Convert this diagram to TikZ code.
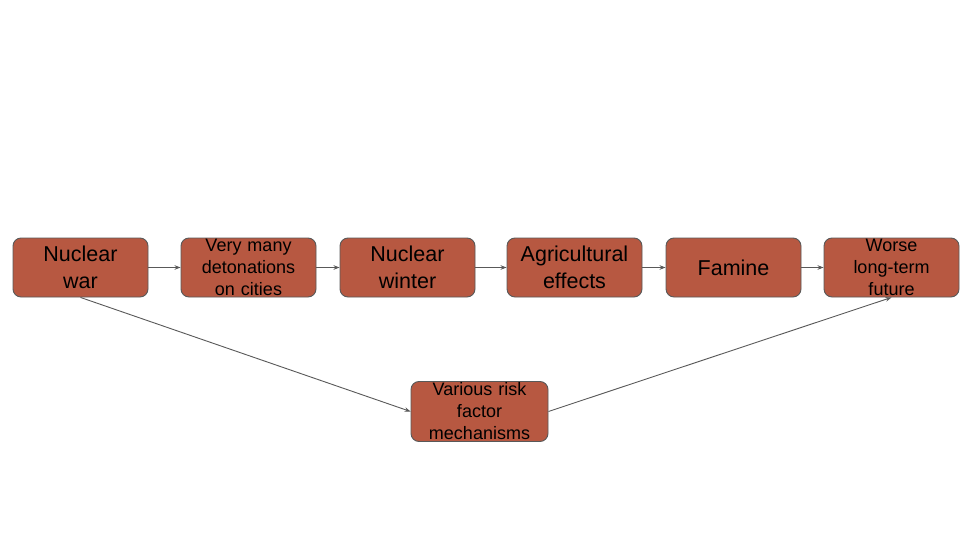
\documentclass[tikz,border=0pt]{standalone}
\usepackage{fontspec}
\setmainfont{Liberation Sans}
\usetikzlibrary{arrows.meta}
\definecolor{boxfill}{HTML}{B75841}
\definecolor{edge}{HTML}{595959}
\begin{document}
\begin{tikzpicture}[x=1pt,y=-1pt,
  box/.style={draw=edge,line width=0.9pt,fill=boxfill,rounded corners=8pt,minimum width=135pt,minimum height=59pt,inner sep=0pt,align=center,text width=135pt},
  big/.style={font=\fontsize{21.5}{27}\selectfont},
  small/.style={font=\fontsize{18}{22}\selectfont},
  conn/.style={draw=edge,line width=0.9pt,-{Stealth[length=6pt,width=4.5pt]}}]
\useasboundingbox (0,0) rectangle (960,540);
\fill[white] (0,0) rectangle (960,540);
\node[box,big] (war) at (80.5,267.5) {Nuclear\\war};
\node[box,small] (det) at (248.5,267.5) {Very many\\detonations\\on cities};
\node[box,big] (win) at (407.5,267.5) {Nuclear\\winter};
\node[box,big] (agr) at (574.5,267.5) {Agricultural\\effects};
\node[box,big] (fam) at (733.5,267.5) {Famine};
\node[box,small] (fut) at (891.5,267.5) {Worse\\long-term\\future};
\node[box,small,minimum width=137pt,text width=137pt,minimum height=60pt] (var) at (479.5,411.5) {Various risk\\factor\\mechanisms};
\draw[conn] (war) -- (det);
\draw[conn] (det) -- (win);
\draw[conn] (win) -- (agr);
\draw[conn] (agr) -- (fam);
\draw[conn] (fam) -- (fut);
\draw[conn] (war.south) -- (var.west);
\draw[conn] (var.east) -- (fut.south);
\end{tikzpicture}
\end{document}
